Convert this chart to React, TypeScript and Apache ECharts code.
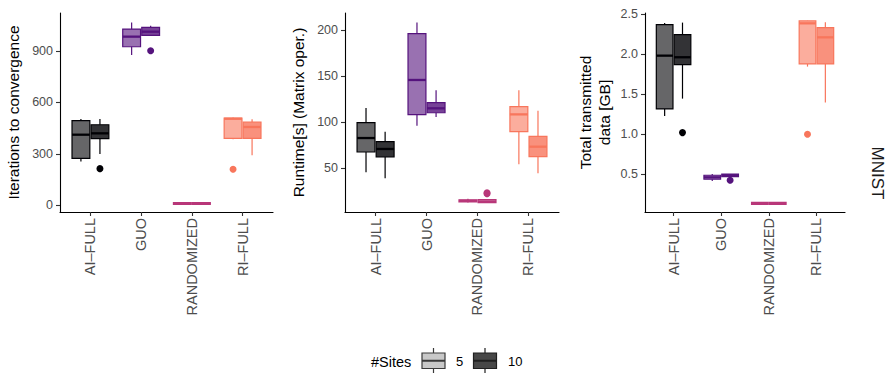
import React, { useEffect, useRef } from "react";
import * as echarts from "echarts";

// ---------- data ----------
const categoryLabels = ["AI–FULL", "GUO", "RANDOMIZED", "RI–FULL"];
const categoryColors = ["#000004", "#55137D", "#B83779", "#F8765C"];
const siteGroups = ["5", "10"];

// box stats per category: [min, q1, median, q3, max]
const iterSites5 = [[255, 274, 412, 494, 503], [877, 925, 984, 1028, 1067], [4, 6, 11, 16, 18], [385, 391, 505, 509, 513]];
const iterSites10 = [[299, 389, 420, 470, 503], [988, 991, 1013, 1038, 1048], [4, 6, 11, 16, 18], [292, 391, 457, 486, 502]];
const iterOutliers5 = [[3, 210]];
const iterOutliers10 = [[0, 214], [1, 902]];
const iterTicks = [0, 300, 600, 900];

const runtimeSites5 = [[45.3, 67.4, 82.6, 99.3, 115.2], [96, 108, 145.7, 196, 208.3], [12.5, 13.3, 14.3, 15.3, 16.5], [54, 89.5, 108.3, 116.7, 134.4]];
const runtimeSites10 = [[38.8, 62, 70.7, 78.6, 89.5], [105.4, 110.1, 114.9, 121, 134.4], [12, 12.4, 13.2, 15.8, 16], [44.2, 62.3, 73.2, 84.4, 112.3]];
const runtimeOutliers5: number[][] = [];
const runtimeOutliers10 = [[2, 23.2], [2, 22.0]];
const runtimeTicks = [50, 100, 150, 200];

const dataSites5 = [[1.229, 1.317, 1.983, 2.371, 2.392], [0.417, 0.438, 0.462, 0.488, 0.504], [0.12, 0.125, 0.137, 0.15, 0.155], [1.846, 1.879, 2.387, 2.417, 2.42]];
const dataSites10 = [[1.446, 1.871, 1.963, 2.246, 2.396], [0.471, 0.471, 0.488, 0.504, 0.504], [0.12, 0.125, 0.137, 0.15, 0.155], [1.396, 1.879, 2.212, 2.333, 2.4]];
const dataOutliers5 = [[3, 1.0]];
const dataOutliers10 = [[0, 1.021], [1, 0.425]];
const dataTicks = [0.5, 1.0, 1.5, 2.0, 2.5];

const FONT = "'Liberation Sans', Arial, Helvetica, sans-serif";
const BOX_HALF = 0.1875;
const OFFSETS = [-0.1875, 0.1875];
const ALPHAS = [0.6, 0.8];

function hexToRgba(hex: string, a: number) {
  const r = parseInt(hex.slice(1, 3), 16);
  const g = parseInt(hex.slice(3, 5), 16);
  const b = parseInt(hex.slice(5, 7), 16);
  return `rgba(${r},${g},${b},${a})`;
}

function boxSeries(gridIdx: number, stats: number[][], g: number) {
  const offset = OFFSETS[g];
  const alpha = ALPHAS[g];
  return {
    type: "custom",
    name: siteGroups[g],
    xAxisIndex: gridIdx,
    yAxisIndex: gridIdx,
    data: stats.map((s, i) => [i, ...s]),
    encode: { x: 0, y: [1, 2, 3, 4, 5] },
    renderItem: (params: any, api: any) => {
      const ci = api.value(0);
      const cx = ci + offset;
      const color = categoryColors[ci];
      const pMin = api.coord([cx, api.value(1)]);
      const pQ1 = api.coord([cx, api.value(2)]);
      const pMed = api.coord([cx, api.value(3)]);
      const pQ3 = api.coord([cx, api.value(4)]);
      const pMax = api.coord([cx, api.value(5)]);
      const l = api.coord([cx - BOX_HALF, api.value(3)])[0] + 0.6;
      const r = api.coord([cx + BOX_HALF, api.value(3)])[0] - 0.6;
      const lw = 1.2;
      return {
        type: "group",
        children: [
          { type: "line", shape: { x1: pMin[0], y1: pMin[1], x2: pQ1[0], y2: pQ1[1] }, style: { stroke: color, lineWidth: lw } },
          { type: "line", shape: { x1: pQ3[0], y1: pQ3[1], x2: pMax[0], y2: pMax[1] }, style: { stroke: color, lineWidth: lw } },
          {
            type: "rect",
            shape: { x: l, y: pQ3[1], width: r - l, height: Math.max(pQ1[1] - pQ3[1], 0.5) },
            style: { fill: hexToRgba(color, alpha), stroke: color, lineWidth: lw },
          },
          { type: "line", shape: { x1: l, y1: pMed[1], x2: r, y2: pMed[1] }, style: { stroke: color, lineWidth: 2.3 } },
        ],
      };
    },
  };
}

function outlierSeries(gridIdx: number, pts: number[][], g: number) {
  return {
    type: "scatter",
    xAxisIndex: gridIdx,
    yAxisIndex: gridIdx,
    symbolSize: 7,
    data: pts.map((p) => ({ value: [p[0] + OFFSETS[g], p[1]], itemStyle: { color: categoryColors[p[0]], opacity: 1 } })),
  };
}

const GRIDS = [
  { left: 60, top: 13, width: 213, height: 199 },
  { left: 345, top: 13, width: 214, height: 199 },
  { left: 645, top: 13, width: 200, height: 199 },
];

function xAxis(gridIndex: number) {
  return {
    gridIndex,
    type: "value",
    min: -0.6,
    max: 3.6,
    splitLine: { show: false },
    axisLine: { show: true, onZero: false, lineStyle: { color: "#000", width: 1.1 } },
    axisTick: { show: true, customValues: [0, 1, 2, 3], length: 4, lineStyle: { color: "#333", width: 1.1 } },
    axisLabel: {
      customValues: [0, 1, 2, 3],
      formatter: (v: number) => categoryLabels[Math.round(v)],
      rotate: 90,
      margin: 6,
      fontSize: 14.5,
      color: "#4D4D4D",
      fontFamily: FONT,
    },
  };
}

function yAxis(gridIndex: number, min: number, max: number, ticks: number[], name: string, nameGap: number, fmt: (v: number) => string) {
  return {
    gridIndex,
    type: "value",
    min,
    max,
    splitLine: { show: false },
    axisLine: { show: true, onZero: false, lineStyle: { color: "#000", width: 1.1 } },
    axisTick: { show: true, customValues: ticks, length: 4, lineStyle: { color: "#333", width: 1.1 } },
    axisLabel: { customValues: ticks, formatter: fmt, margin: 7, fontSize: 12.5, color: "#4D4D4D", fontFamily: FONT },
    name,
    nameLocation: "middle",
    nameGap,
    nameTextStyle: { fontSize: 15.5, color: "#000", fontFamily: FONT, lineHeight: 19 },
  };
}

function legendKey(x: number, fill: string, stroke: string) {
  const top = 353;
  const h = 15.5;
  const w = 23;
  const cx = x + w / 2;
  return [
    { type: "line", shape: { x1: cx, y1: 348, x2: cx, y2: top }, style: { stroke, lineWidth: 1.2 } },
    { type: "line", shape: { x1: cx, y1: top + h, x2: cx, y2: 373 }, style: { stroke, lineWidth: 1.2 } },
    { type: "rect", shape: { x, y: top, width: w, height: h }, style: { fill, stroke, lineWidth: 1.2 } },
    { type: "line", shape: { x1: x, y1: top + h / 2, x2: x + w, y2: top + h / 2 }, style: { stroke, lineWidth: 2 } },
  ];
}

export default function App() {
  const ref = useRef<HTMLDivElement>(null);
  useEffect(() => {
    if (!ref.current) return;
    const chart = echarts.init(ref.current, undefined, { renderer: "svg" });
    const option: any = {
      animation: false,
      backgroundColor: "#fff",
      textStyle: { fontFamily: FONT },
      grid: GRIDS,
      xAxis: [xAxis(0), xAxis(1), xAxis(2)],
      yAxis: [
        yAxis(0, -39, 1122, iterTicks, "Iterations to convergence", 37, (v) => String(v)),
        yAxis(1, 2.2, 218.5, runtimeTicks, "Runtime[s] (Matrix oper.)", 37, (v) => String(v)),
        yAxis(2, 0.029, 2.516, dataTicks, "Total transmitted\ndata [GB]", 31, (v) => v.toFixed(1)),
      ],
      series: [
        boxSeries(0, iterSites5, 0),
        boxSeries(0, iterSites10, 1),
        outlierSeries(0, iterOutliers5, 0),
        outlierSeries(0, iterOutliers10, 1),
        boxSeries(1, runtimeSites5, 0),
        boxSeries(1, runtimeSites10, 1),
        outlierSeries(1, runtimeOutliers5, 0),
        outlierSeries(1, runtimeOutliers10, 1),
        boxSeries(2, dataSites5, 0),
        boxSeries(2, dataSites10, 1),
        outlierSeries(2, dataOutliers5, 0),
        outlierSeries(2, dataOutliers10, 1),
      ],
      graphic: [
        {
          type: "text",
          x: 877,
          y: 173,
          rotation: -Math.PI / 2,
          style: { text: "MNIST", fontSize: 17, fill: "#1a1a1a", fontFamily: FONT, align: "center", verticalAlign: "middle" },
        },
        {
          type: "text",
          x: 371,
          y: 361.5,
          style: { text: "#Sites", fontSize: 14.5, fill: "#000", fontFamily: FONT, align: "left", verticalAlign: "middle" },
        },
        ...legendKey(422, "#C8C8C8", "#3a3a3a"),
        ...legendKey(473.5, "#474747", "#1f1f1f"),
        {
          type: "text",
          x: 456,
          y: 361.5,
          style: { text: siteGroups[0], fontSize: 13, fill: "#000", fontFamily: FONT, align: "left", verticalAlign: "middle" },
        },
        {
          type: "text",
          x: 508,
          y: 361.5,
          style: { text: siteGroups[1], fontSize: 13, fill: "#000", fontFamily: FONT, align: "left", verticalAlign: "middle" },
        },
      ],
    };
    chart.setOption(option);
    return () => chart.dispose();
  }, []);
  return <div ref={ref} style={{ position: "absolute", left: 0, top: 0, width: 889, height: 373 }} />;
}
